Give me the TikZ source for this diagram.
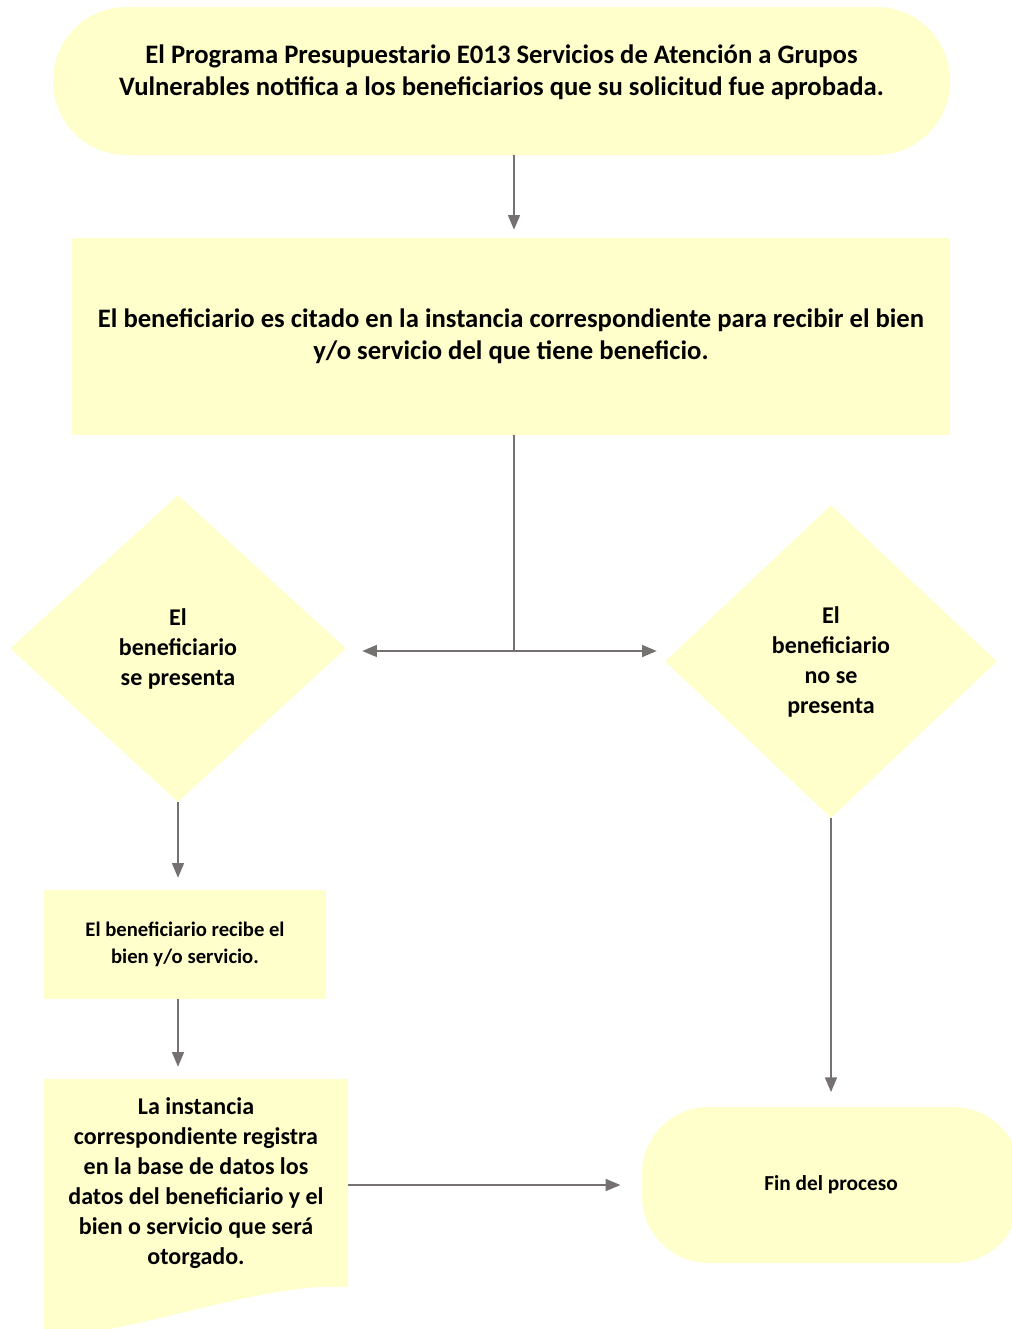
\documentclass[tikz,border=0pt]{standalone}
\usepackage{fontspec}
\setmainfont{Carlito}
\usetikzlibrary{shapes.geometric, positioning, arrows.meta}
\definecolor{paleyellow}{HTML}{FFFFCC}
\definecolor{linegray}{HTML}{767171}
\tikzset{
>={Triangle[length=11pt,width=9pt]}, % filled triangle heads
every node/.style={font=\bfseries, align=center, inner sep=0pt}, % bold centred text
procbox/.style={rectangle, fill=paleyellow}, % process steps
terminal/.style={rectangle, fill=paleyellow}, % start and end
decision/.style={diamond, fill=paleyellow}, % the two outcomes
flow/.style={->, draw=linegray, line width=1.1pt}, % connectors
}

\begin{document}
\begin{tikzpicture}[x=0.75pt, y=-0.75pt]
\useasboundingbox (0,0) rectangle (1012,1329);
\node[terminal, rounded corners=55pt, minimum width=672.75pt, minimum height=111pt] at (501.5,81) (notif) {};
\node[font=\bfseries\fontsize{20}{24}\selectfont] at (501.5,72) {El Programa Presupuestario E013 Servicios de Atención a Grupos\\Vulnerables notifica a los beneficiarios que su solicitud fue aprobada.};
\node[procbox, minimum width=658.5pt, minimum height=147.75pt, font=\bfseries\fontsize{20}{24}\selectfont] at (511,336.5) (cited) {El beneficiario es citado en la instancia correspondiente para recibir el bien\\y/o servicio del que tiene beneficio.};
\node[decision, minimum width=252pt, minimum height=230.25pt, font=\bfseries\fontsize{18}{22.5}\selectfont] at (178,648.5) (present) {El\\beneficiario\\se presenta};
\node[decision, minimum width=249pt, minimum height=234.75pt, font=\bfseries\fontsize{18}{22.5}\selectfont] at (831,661.5) (absent) {El\\beneficiario\\no se\\presenta};
\node[procbox, minimum width=211.5pt, minimum height=81.75pt, font=\bfseries\fontsize{15.5}{20.25}\selectfont] at (185,944.5) (got) {El beneficiario recibe el\\bien y/o servicio.};
% document shape: box plus wavy bottom
\fill[paleyellow] (44,1286) -- (44,1338) .. controls (150,1330) and (250,1285) .. (348,1286) -- cycle;
\node[procbox, minimum width=228pt, minimum height=156pt, font=\bfseries\fontsize{18}{22.5}\selectfont] at (196,1183) (reg) {La instancia\\correspondiente registra\\en la base de datos los\\datos del beneficiario y el\\bien o servicio que será\\otorgado.};
\node[terminal, rounded corners=50pt, minimum width=283.5pt, minimum height=117pt, font=\bfseries\fontsize{16}{20}\selectfont] at (831,1185) (fin) {Fin del proceso};
\coordinate (split) at (514,651);
\draw[flow, shorten >=6pt] (split |- notif.south) -- (split |- cited.north);
\draw[linegray, line width=1.1pt] (split |- cited.south) -- (split);
\draw[flow, shorten >=12pt] (split) -- (split -| present.east);
\draw[flow, shorten >=6pt] (split) -- (split -| absent.west);
\draw[flow, shorten >=9pt] (present.south) -- (present.south |- got.north);
\draw[flow, shorten >=9pt] (got.south -| present.south) -- (present.south |- reg.north);
\draw[flow, shorten >=16pt] (reg.east |- fin.west) -- (fin.west);
\draw[flow, shorten >=11pt] (absent.south) -- (fin.north);
\end{tikzpicture}
\end{document}
